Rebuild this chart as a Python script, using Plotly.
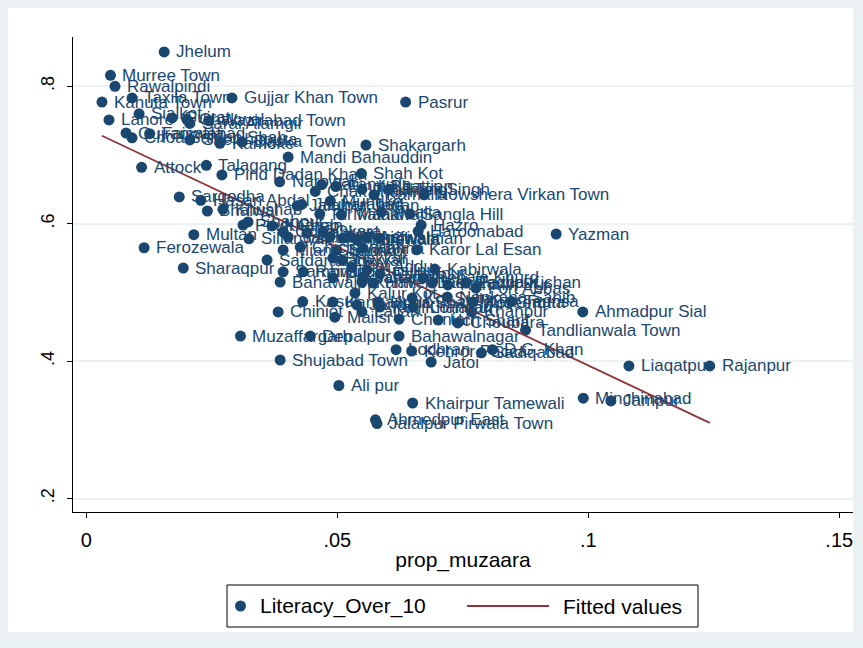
import numpy as np
import plotly.graph_objects as go

towns = [
    "Jhelum", "Murree Town", "Rawalpindi", "Kahuta Town", "Taxila Town", "Gujjar Khan Town",
    "Pasrur", "Lahore", "Sialkot", "Gujrat", "Chakwal", "Sarai Alamgir", "Wazirabad Town",
    "Gujranwala", "Choa Saidan Shah", "Faisalabad", "Sheikhupura", "Kamoke", "Daska Town",
    "Shakargarh", "Mandi Bahauddin", "Attock", "Talagang", "Pind Dadan Khan", "Shah Kot",
    "Narowal", "Chak Jhumra", "Jaranwala", "Pindi Bhattian", "Toba Tek Singh", "Kamalia",
    "Jhang", "Nowshera Virkan Town", "Sargodha", "Hasan Abdal", "Bhalwal", "Khushab",
    "Jalalpur Jattan", "Jauharabad", "Muridke", "Malakwal", "Phalia", "Sangla Hill", "Hazro",
    "Haroonabad", "Yazman", "Multan", "Sillanwali", "Ferozewala", "Karor Lal Esan",
    "Sharaqpur", "Safdarabad", "Kabirwala", "Kasur", "Chiniot", "Khanpur", "Ahmadpur Sial",
    "Mailsi", "Chunian", "Choubara", "Tandlianwala Town", "Muzaffargarh", "Depalpur",
    "Bahawalnagar", "Lodhran", "Kehror Pacca", "D.G. Khan", "Sadiqabad", "Shujabad Town",
    "Jatoi", "Liaqatpur", "Rajanpur", "Ali pur", "Khairpur Tamewali", "Minchinabad", "Jampur",
    "Ahmedpur East", "Jalalpur Pirwala Town", "Taunsa", "Fort Abbas", "Pir Mahal",
    "Pindi Gheb", "Shahpur", "Kharian", "Gojra", "Samundri", "Sahiwal", "Okara", "Pattoki",
    "Khanewal", "Vehari", "Burewala", "Arifwala", "Chishtian", "Kahna", "Shorkot",
    "Chichawatni", "Mian Channu", "Bhakkar", "Layyah", "Kot Addu", "Hasilpur", "Dunyapur",
    "Jahanian", "Raiwind", "Sambrial", "Pakpattan", "Renala Khurd", "Kot Radha Kishan",
    "Rahmin Pur", "Fazilpur", "Bahawalpur", "Kamir", "Haveli Lakha", "Kalur Kot",
    "Hujra Shah Muqeem", "Kot Sultan", "Nankana Sahib", "Kot Chutta", "Kanganpur", "Jand",
    "Lalian", "Kotli Loharan", "Khangarh", "Uch Sharif",
]

prop_muzaara = [
    0.0155, 0.0048, 0.0057, 0.0031, 0.0091, 0.0290,
    0.0636, 0.0045, 0.0105, 0.0171, 0.0200, 0.0206, 0.0244,
    0.0079, 0.0091, 0.0126, 0.0206, 0.0266, 0.0310,
    0.0557, 0.0402, 0.0110, 0.0239, 0.0270, 0.0548,
    0.0385, 0.0456, 0.0469, 0.0497, 0.0549, 0.0573,
    0.0603, 0.0673, 0.0185, 0.0228, 0.0241, 0.0272,
    0.0420, 0.0429, 0.0486, 0.0508, 0.0588, 0.0645, 0.0667,
    0.0661, 0.0936, 0.0214, 0.0324, 0.0115, 0.0658,
    0.0193, 0.0360, 0.0694, 0.0431, 0.0382, 0.0768, 0.0989,
    0.0495, 0.0623, 0.0740, 0.0875, 0.0307, 0.0446,
    0.0623, 0.0617, 0.0648, 0.0809, 0.0787, 0.0386,
    0.0687, 0.1081, 0.1242, 0.0503, 0.0650, 0.0990, 0.1045,
    0.0576, 0.0579, 0.0847, 0.0776, 0.0465,
    0.0312, 0.0322, 0.0370, 0.0392, 0.0402, 0.0440, 0.0471, 0.0485,
    0.0511, 0.0525, 0.0539, 0.0559, 0.0585, 0.0551, 0.0499,
    0.0426, 0.0392, 0.0491, 0.0509, 0.0529, 0.0559, 0.0585,
    0.0551, 0.0432, 0.0392, 0.0491, 0.0671, 0.0689,
    0.0720, 0.0756, 0.0386, 0.0549, 0.0571, 0.0535,
    0.0581, 0.0649, 0.0719, 0.0770, 0.0491, 0.0539,
    0.0549, 0.0585, 0.0651, 0.0701,
]

literacy_over_10 = [
    0.850, 0.816, 0.800, 0.777, 0.783, 0.783,
    0.777, 0.751, 0.760, 0.754, 0.752, 0.746, 0.750,
    0.732, 0.725, 0.731, 0.722, 0.717, 0.719,
    0.7145, 0.697, 0.682, 0.685, 0.671, 0.673,
    0.661, 0.647, 0.657, 0.654, 0.650, 0.642,
    0.650, 0.642, 0.639, 0.634, 0.6185, 0.621,
    0.626, 0.628, 0.633, 0.613, 0.617, 0.614, 0.598,
    0.589, 0.585, 0.584, 0.578, 0.565, 0.562,
    0.5355, 0.547, 0.534, 0.4866, 0.4715, 0.4715, 0.4715,
    0.464, 0.461, 0.4555, 0.445, 0.4365, 0.4365,
    0.4365, 0.4166, 0.4147, 0.4166, 0.412, 0.4016,
    0.3987, 0.393, 0.393, 0.3645, 0.339, 0.346, 0.342,
    0.3146, 0.309, 0.4866, 0.5064, 0.614,
    0.598, 0.6025, 0.5967, 0.588, 0.5806, 0.5865, 0.588, 0.5806,
    0.579, 0.5806, 0.5763, 0.5806, 0.579, 0.5646, 0.5617,
    0.566, 0.5617, 0.550, 0.547, 0.537, 0.5326, 0.527,
    0.5224, 0.530, 0.530, 0.521, 0.521, 0.5137,
    0.5108, 0.5137, 0.5151, 0.5151, 0.5137, 0.4991,
    0.486, 0.4918, 0.4933, 0.486, 0.486, 0.4817,
    0.4715, 0.4787, 0.4787, 0.4598,
]

x_ticks = [0, 0.05, 0.1, 0.15]
x_ticktext = ["0", ".05", ".1", ".15"]
y_ticks = [0.2, 0.4, 0.6, 0.8]
y_ticktext = [".2", ".4", ".6", ".8"]
legend_labels = ["Literacy_Over_10", "Fitted values"]

NAVY = "#1A476F"
MAROON = "#90353B"
FRAME = "#EAF2F3"
FONT = "Liberation Sans, Arial, sans-serif"

# least-squares line of literacy on prop_muzaara over the observed x range
xs = np.array(prop_muzaara)
ys = np.array(literacy_over_10)
slope, intercept = np.polyfit(xs, ys, 1)
fit_x = np.array([xs.min(), xs.max()])
fit_y = intercept + slope * fit_x

fig = go.Figure()
fig.add_trace(go.Scatter(
    x=prop_muzaara, y=literacy_over_10, mode="markers",
    marker=dict(color=NAVY, size=11, line=dict(width=0)),
    name=legend_labels[0], showlegend=False,
))
fig.add_trace(go.Scatter(
    x=fit_x, y=fit_y, mode="lines",
    line=dict(color=MAROON, width=1.8),
    name=legend_labels[1], showlegend=False,
))

# town names to the right of each marker
for name, xv, yv in zip(towns, prop_muzaara, literacy_over_10):
    fig.add_annotation(
        x=xv, y=yv, text=name, showarrow=False,
        xanchor="left", yanchor="middle", xshift=10,
        font=dict(family=FONT, size=17, color=NAVY),
    )

W, H = 863, 648
L, R, T, B = 73, 10, 37, 136
pw, ph = W - L - R, H - T - B

def px_x(px):
    return (px - L) / pw

def px_y(py):
    return (H - B - py) / ph

# white graph area inside the tinted outer frame
fig.add_shape(type="rect", xref="paper", yref="paper",
              x0=px_x(8), y0=px_y(632), x1=px_x(853), y1=px_y(8),
              fillcolor="white", line=dict(width=0), layer="below")

# legend box with a marker key and a line key
fig.add_shape(type="rect", xref="paper", yref="paper",
              x0=px_x(227), y0=px_y(627), x1=px_x(698), y1=px_y(585),
              fillcolor="white", line=dict(color="black", width=1))
fig.add_shape(type="circle", xref="paper", yref="paper",
              x0=px_x(235), y0=px_y(611.5), x1=px_x(246), y1=px_y(600.5),
              fillcolor=NAVY, line=dict(width=0))
fig.add_shape(type="line", xref="paper", yref="paper",
              x0=px_x(467), y0=px_y(606), x1=px_x(549), y1=px_y(606),
              line=dict(color=MAROON, width=1.8))
for label, lx in zip(legend_labels, [258, 561]):
    fig.add_annotation(
        x=px_x(lx), y=px_y(606), xref="paper", yref="paper", text=label,
        showarrow=False, xanchor="left", yanchor="middle",
        font=dict(family=FONT, size=21, color="black"),
    )

fig.update_layout(
    width=W, height=H,
    margin=dict(l=L, r=R, t=T, b=B),
    paper_bgcolor=FRAME, plot_bgcolor="white",
    font=dict(family=FONT, size=17, color="black"),
    showlegend=False,
    xaxis=dict(
        range=[-0.00267, 0.15274], tickvals=x_ticks, ticktext=x_ticktext,
        showgrid=False, zeroline=False, showline=True, linecolor="black", linewidth=1,
        ticks="outside", ticklen=5, tickcolor="black", ticklabelstandoff=5,
        title=dict(text="prop_muzaara", standoff=2, font=dict(size=21)),
        tickfont=dict(size=20),
    ),
    yaxis=dict(
        range=[0.18036, 0.87176], tickvals=y_ticks, ticktext=y_ticktext,
        showgrid=True, gridcolor=FRAME, gridwidth=1.5, zeroline=False,
        showline=True, linecolor="black", linewidth=1,
        ticks="outside", ticklen=5, tickcolor="black", tickangle=-90,
        ticklabelstandoff=6, tickfont=dict(size=18),
    ),
)

fig.write_html("out.html")
